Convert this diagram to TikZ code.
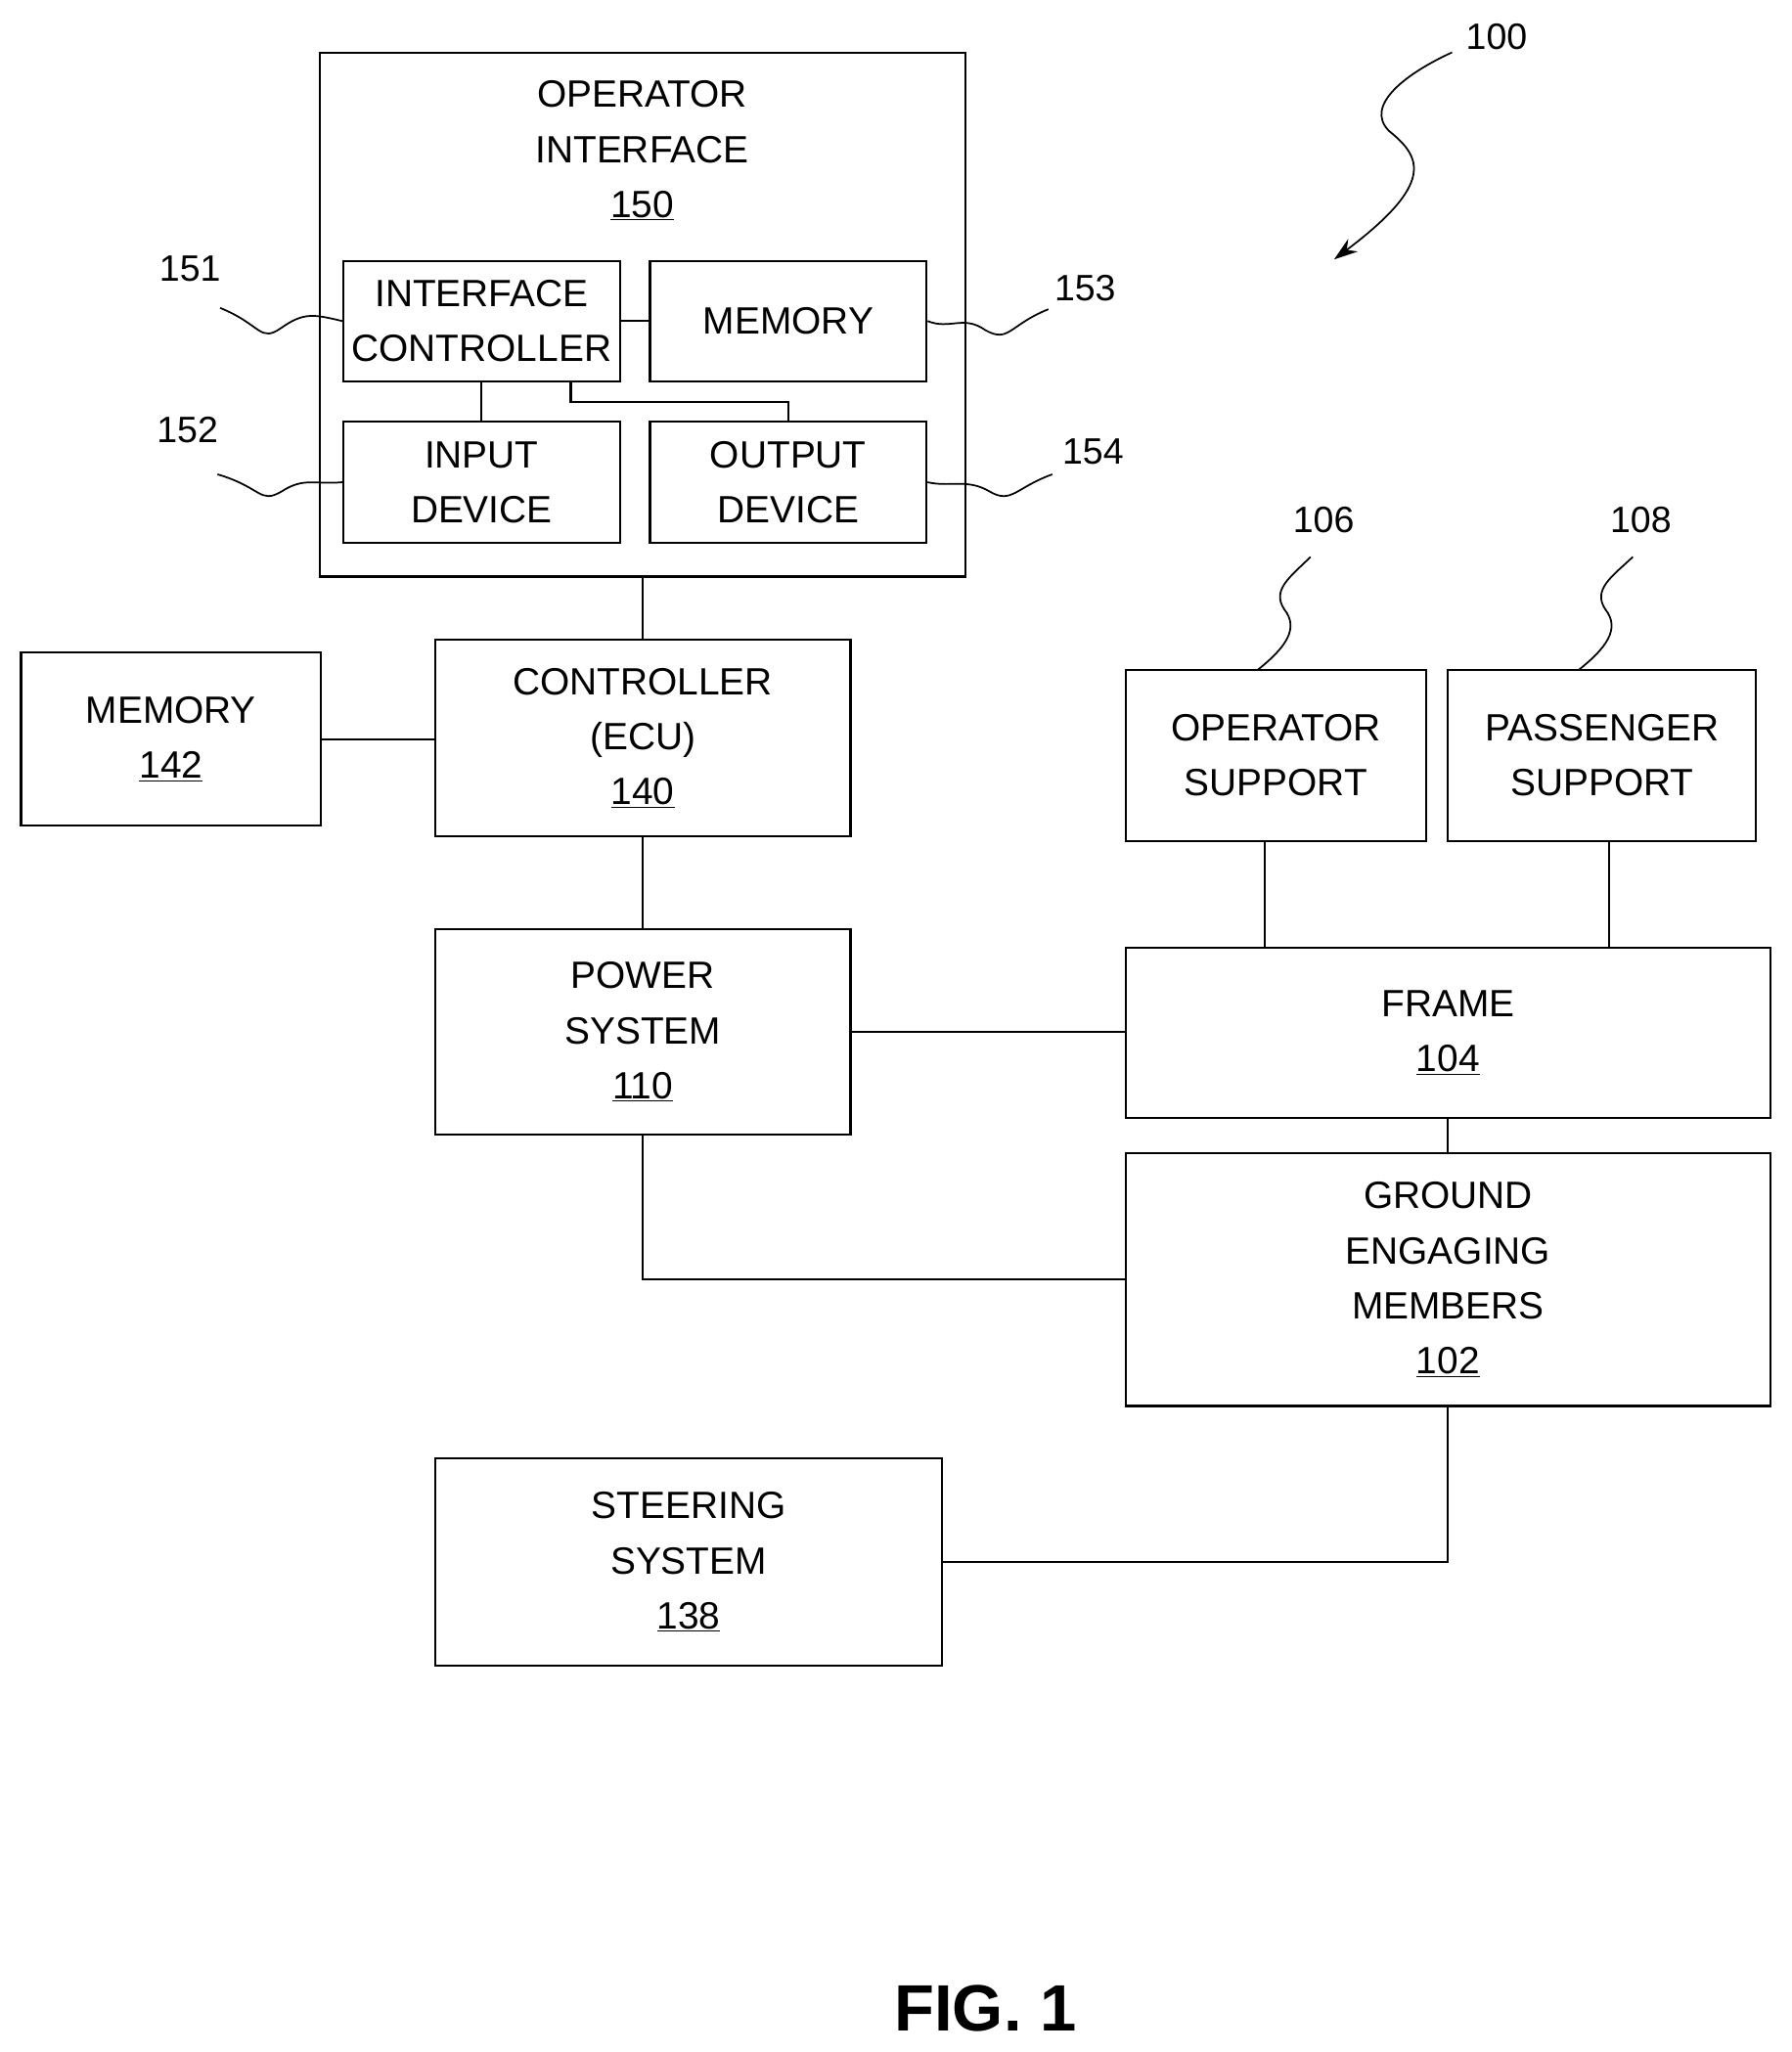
\documentclass[tikz,border=0pt]{standalone}
\usepackage{fontspec}
\setmainfont{Liberation Sans}
\usetikzlibrary{arrows.meta}
\begin{document}
\begin{tikzpicture}[x=1pt, y=-1pt, line width=1.6pt,
  box/.style={draw, align=center, inner sep=0pt, font=\fontsize{29}{42}\selectfont},
  title/.style={align=center, inner sep=0pt, font=\fontsize{29}{42}\selectfont},
  ref/.style={font=\fontsize{28}{32}\selectfont},
  lead/.style={line width=1.3pt}]
  \useasboundingbox (0,0) rectangle (1367,1566);

  % operator interface
  \node[box, minimum width=493, minimum height=400] (oi) at (490.5,240) {};
  \node[title] (oit) at (490,115) {OPERATOR\\INTERFACE\\\underline{150}};
  \node[box, minimum width=211, minimum height=92] (ic) at (367.5,245) {INTERFACE\\CONTROLLER};
  \node[box, minimum width=211, minimum height=92] (imem) at (601.5,245) {MEMORY};
  \node[box, minimum width=211, minimum height=92] (in) at (367.5,368) {INPUT\\DEVICE};
  \node[box, minimum width=211, minimum height=92] (out) at (601.5,368) {OUTPUT\\DEVICE};

  \node[box, minimum width=229, minimum height=132] (mem) at (130.5,564) {MEMORY\\\underline{142}};
  \node[box, minimum width=317, minimum height=150] (ctrl) at (490.5,563) {CONTROLLER\\(ECU)\\\underline{140}};
  \node[box, minimum width=317, minimum height=157] (pwr) at (490.5,787.5) {POWER\\SYSTEM\\\underline{110}};
  \node[box, minimum width=229, minimum height=131] (opsup) at (973.5,576.5) {OPERATOR\\SUPPORT};
  \node[box, minimum width=235, minimum height=131] (pasup) at (1222.5,576.5) {PASSENGER\\SUPPORT};
  \node[box, minimum width=492, minimum height=130] (frame) at (1105,788) {FRAME\\\underline{104}};
  \node[box, minimum width=492, minimum height=193] (gnd) at (1105,976.5) {GROUND\\ENGAGING\\MEMBERS\\\underline{102}};
  \node[box, minimum width=387, minimum height=158] (steer) at (525.5,1192) {STEERING\\SYSTEM\\\underline{138}};

  % connectors
  \draw (ic.east) -- (imem.west);
  \draw (ic.south) -- (in.north);
  \draw ([xshift=68]ic.south) -- ++(0,15) -| (out.north);
  \draw (oi.south) -- (ctrl.north);
  \draw (mem.east) -- (mem.east -| ctrl.west);
  \draw (ctrl.south) -- (pwr.north);
  \draw (pwr.east) -- (pwr.east -| frame.west);
  \draw (opsup.south -| 965,0) -- (frame.north -| 965,0);
  \draw (pasup.south -| 1228,0) -- (frame.north -| 1228,0);
  \draw (frame.south) -- (gnd.north);
  \draw (pwr.south) |- (gnd.west);
  \draw (gnd.south) |- (steer.east);

  % reference numerals
  \node[ref] (r151) at (145,205) {151};
  \node[ref] (r152) at (143,328) {152};
  \node[ref] (r153) at (828,220) {153};
  \node[ref] (r154) at (834,345) {154};
  \node[ref] (r106) at (1010,397) {106};
  \node[ref] (r108) at (1252,397) {108};
  \node[ref] (r100) at (1142,28) {100};
  \coordinate (a100) at (1018,198);

  \draw[lead] (168,235) .. controls (200,248) and (198,262) .. (215,250) .. controls (232,238) and (240,240) .. (ic.west);
  \draw[lead] (166,362) .. controls (200,372) and (198,385) .. (215,375) .. controls (232,364) and (240,370) .. (in.west);
  \draw[lead] (800,236) .. controls (770,248) and (770,262) .. (752,252) .. controls (735,240) and (725,252) .. (imem.east);
  \draw[lead] (803,362) .. controls (775,372) and (772,385) .. (755,375) .. controls (738,365) and (725,372) .. (out.east);
  \draw[lead] (1000,425) .. controls (985,440) and (970,450) .. (980,465) .. controls (992,480) and (980,495) .. (960,511);
  \draw[lead] (1246,425) .. controls (1230,440) and (1215,450) .. (1225,465) .. controls (1237,480) and (1225,495) .. (1205,511);
  \draw[lead, -{Stealth[length=18pt, width=12pt]}] (1108,40) .. controls (1075,55) and (1040,80) .. (1060,100) .. controls (1085,120) and (1095,140) .. (a100);

  \node[font=\fontsize{50}{55}\selectfont\bfseries] (fig) at (752,1533) {FIG. 1};
\end{tikzpicture}
\end{document}
